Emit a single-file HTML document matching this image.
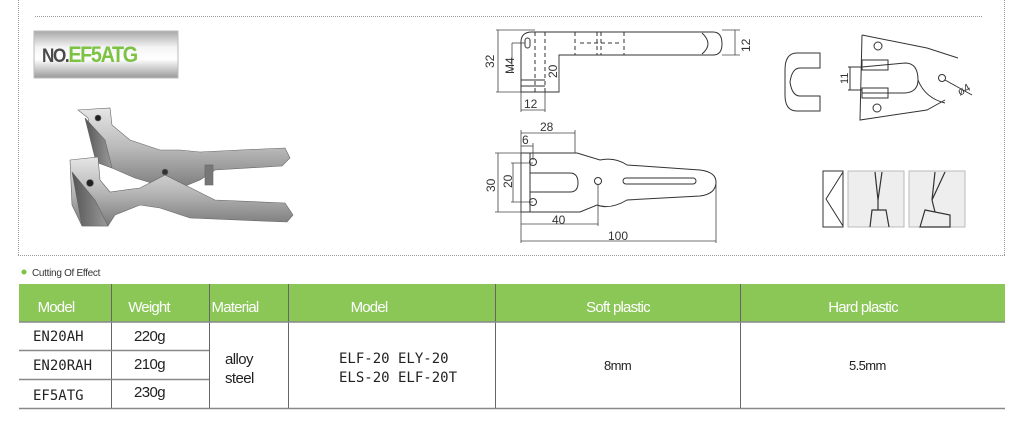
<!DOCTYPE html>
<html><head><meta charset="utf-8"><style>
body{margin:0;width:1022px;height:431px;background:#fff;overflow:hidden;font-family:"Liberation Sans",sans-serif;position:relative}
svg{position:absolute;left:0;top:0}
</style></head><body>
<svg width="1022" height="431" viewBox="0 0 1022 431" font-family="Liberation Sans, sans-serif">
<defs>
<linearGradient id="lab" x1="0" y1="0" x2="0" y2="1">
<stop offset="0" stop-color="#a8a8a8"/><stop offset="0.35" stop-color="#f4f4f4"/><stop offset="0.6" stop-color="#ffffff"/><stop offset="1" stop-color="#9a9a9a"/></linearGradient>
<linearGradient id="met" x1="0" y1="0" x2="0" y2="1">
<stop offset="0" stop-color="#e6e6e6"/><stop offset="0.5" stop-color="#b8b8b8"/><stop offset="1" stop-color="#7a7a7a"/></linearGradient>
<linearGradient id="dark" x1="0" y1="0" x2="1" y2="0">
<stop offset="0" stop-color="#555"/><stop offset="1" stop-color="#9a9a9a"/></linearGradient>
</defs>
<g stroke="#9a9a9a" stroke-width="1" stroke-dasharray="1,1" fill="none">
<line x1="18.5" y1="0" x2="18.5" y2="255"/>
<line x1="18" y1="255.5" x2="1005" y2="255.5"/>
<line x1="1004.5" y1="0" x2="1004.5" y2="255"/>
<line x1="35" y1="16.5" x2="982" y2="16.5"/>
</g>
<rect x="34" y="31" width="144" height="47" fill="url(#lab)" stroke="#bbb"/>
<text x="42" y="62" font-size="19" fill="#4a4a4a" letter-spacing="-1.5" font-weight="bold" transform="translate(42 0) scale(0.9 1) translate(-42 0)">NO.<tspan fill="#7cc243" font-size="22">EF5ATG</tspan></text>
<!-- pliers photo approx -->
<g stroke="#666" stroke-width="0.6">
<path d="M78 110 L110 108 L112 125 L130 140 L160 150 L180 150 L200 152 L240 150 L285 148 L290 158 L282 166 L215 170 L200 180 L175 190 L135 178 L112 168 L96 162 L88 118 Z" fill="url(#met)"/>
<path d="M85 118 L96 162 L112 168 L105 140 Z" fill="url(#dark)"/>
<path d="M70 160 L98 157 L100 180 L110 192 L140 188 L165 175 L185 185 L215 200 L285 203 L293 215 L287 222 L190 218 L160 208 L140 205 L115 215 L108 226 L82 226 L72 205 Z" fill="url(#met)"/>
<path d="M72 172 L82 226 L108 226 L95 200 Z" fill="url(#dark)"/>
<circle cx="98" cy="118" r="3" fill="#222"/><circle cx="90" cy="183" r="3.5" fill="#222"/><circle cx="165" cy="172" r="3" fill="#333"/>
<rect x="205" y="165" width="8" height="20" fill="#777"/>
</g>
<g stroke="#333" stroke-width="1" fill="none">
<path d="M532 32 Q521 32 521 42 L521 92 L559 92 L559 55 L713 55 Q722 55 722 44 Q722 32 713 32 Z"/>
<path d="M702 33 Q714 44 702 54"/>
<g stroke-dasharray="4,3"><line x1="535" y1="32" x2="535" y2="92"/><line x1="545" y1="32" x2="545" y2="92"/><line x1="575" y1="32" x2="575" y2="55"/><line x1="597" y1="32" x2="597" y2="55"/><line x1="601" y1="32" x2="601" y2="55"/><line x1="624" y1="32" x2="624" y2="55"/><line x1="580" y1="43" x2="620" y2="43"/></g>
<rect x="525" y="38" width="5" height="10" rx="2.5"/>
<line x1="521" y1="80" x2="545" y2="80"/><line x1="521" y1="86" x2="545" y2="86"/>
<g stroke="#444" stroke-width="0.8">
<line x1="496" y1="30" x2="535" y2="30"/><line x1="496" y1="92" x2="521" y2="92"/><line x1="498" y1="30" x2="498" y2="92"/>
<line x1="512" y1="43" x2="512" y2="72"/><line x1="512" y1="43" x2="525" y2="43"/>
<line x1="559" y1="55" x2="559" y2="92"/><line x1="521" y1="92" x2="521" y2="112"/><line x1="545" y1="92" x2="545" y2="112"/><line x1="521" y1="110" x2="545" y2="110"/>
<line x1="722" y1="30" x2="740" y2="30"/><line x1="722" y1="55" x2="740" y2="55"/><line x1="735" y1="30" x2="735" y2="55"/>
</g></g>
<g font-size="12" fill="#333">
<text transform="translate(494 68) rotate(-90)">32</text>
<text transform="translate(514 74) rotate(-90)">M4</text>
<text transform="translate(557 78) rotate(-90)">20</text>
<text transform="translate(750 52) rotate(-90)">12</text>
<text x="524" y="108">12</text>
<text x="540" y="131">28</text><text x="522" y="144">6</text>
<text transform="translate(495 192) rotate(-90)">30</text>
<text transform="translate(512 188) rotate(-90)">20</text>
<text x="552" y="224">40</text><text x="608" y="240">100</text>
</g>
<g stroke="#333" stroke-width="1" fill="none">
<path d="M521 153 L577 153 L600 160 Q615 157 627 165 L700 170 Q716 172 716 182 Q716 194 700 196 L627 200 Q610 210 597 205 L580 212 L521 212 Z"/>
<path d="M530 173 L570 173 Q578 173 578 183 Q578 192 570 192 L530 192"/>
<rect x="623" y="178" width="73" height="6" rx="3"/>
<line x1="530" y1="153" x2="530" y2="212"/>
<circle cx="533" cy="162" r="3.5"/><circle cx="533" cy="202" r="3.5"/><circle cx="598" cy="181" r="3.5"/>
<g stroke="#444" stroke-width="0.8">
<line x1="521" y1="130" x2="521" y2="243"/><line x1="575" y1="130" x2="575" y2="153"/><line x1="521" y1="133" x2="575" y2="133"/>
<line x1="533" y1="143" x2="533" y2="160"/><line x1="521" y1="146" x2="533" y2="146"/>
<line x1="495" y1="153" x2="521" y2="153"/><line x1="495" y1="212" x2="521" y2="212"/><line x1="498" y1="153" x2="498" y2="212"/>
<line x1="511" y1="163" x2="533" y2="163"/><line x1="511" y1="202" x2="533" y2="202"/><line x1="513" y1="163" x2="513" y2="202"/>
<line x1="598" y1="185" x2="598" y2="226"/><line x1="521" y1="224" x2="598" y2="224"/>
<line x1="716" y1="182" x2="716" y2="243"/><line x1="521" y1="241" x2="716" y2="241"/>
</g></g>
<g stroke="#333" stroke-width="1" fill="none">
<path d="M820 53 L797 53 Q785 53 785 70 L785 95 Q785 111 797 111 L820 111 L820 96 L800 96 Q792 96 790 82 Q792 68 800 68 L820 68 Z"/>
<path d="M862 35 L927 48 L958 58 M862 35 L860 120 L927 110 L945 100"/>
<rect x="862" y="60" width="26" height="10"/><rect x="862" y="88" width="26" height="10"/>
<path d="M862 67 L905 63 Q918 63 918 80 Q918 92 905 93 L862 93"/>
<path d="M918 80 Q925 98 945 103"/>
<circle cx="878" cy="46" r="4"/><circle cx="877" cy="108" r="4"/><circle cx="942" cy="78" r="3.5"/>
<line x1="945" y1="80" x2="972" y2="95"/>
<line x1="850" y1="67" x2="850" y2="90"/><line x1="848" y1="67" x2="862" y2="67"/><line x1="848" y1="90" x2="862" y2="90"/>
</g>
<text transform="translate(848 84) rotate(-90)" font-size="11" fill="#333">11</text>
<text transform="translate(960 96) rotate(-30)" font-size="11" fill="#333">ø4</text>
<rect x="823" y="171" width="20" height="56" fill="#fff" stroke="#333"/>
<path d="M843 172 L826 199 L843 226" fill="none" stroke="#333"/>
<rect x="848" y="171" width="56" height="56" fill="#eee" stroke="#bbb"/>
<rect x="909" y="171" width="56" height="56" fill="#eee" stroke="#bbb"/>
<g stroke="#333" fill="none" stroke-width="1.2">
<path d="M875 172 L878 200 L882 172 M870 227 L872 210 L886 210 L889 227 M878 195 L878 210"/>
<path d="M935 172 L932 200 L945 172 M920 227 L925 210 L950 215 L950 227 Z M932 200 L935 212"/>
</g>
<circle cx="24" cy="272" r="2.5" fill="#7cc243"/>
<text x="32" y="276" font-size="10" fill="#333" letter-spacing="-0.3">Cutting Of Effect</text>
<rect x="19" y="284" width="986" height="38" fill="#8bc757"/>
<g font-size="15" fill="#fff" text-anchor="middle" letter-spacing="-0.8">
<text x="56" y="312">Model</text><text x="149" y="312">Weight</text><text x="235" y="312">Material</text><text x="369" y="312">Model</text><text x="618" y="312">Soft plastic</text><text x="863" y="312">Hard plastic</text>
</g>
<g stroke="#666" stroke-width="1">
<line x1="111.5" y1="284" x2="111.5" y2="408"/><line x1="209.5" y1="284" x2="209.5" y2="408"/><line x1="288.5" y1="284" x2="288.5" y2="408"/><line x1="495.5" y1="284" x2="495.5" y2="408"/><line x1="740.5" y1="284" x2="740.5" y2="408"/>
</g>
<g stroke="#888" stroke-width="1.5">
<line x1="19" y1="322" x2="1005" y2="322"/><line x1="19" y1="350.5" x2="209" y2="350.5"/><line x1="19" y1="379.5" x2="209" y2="379.5"/><line x1="19" y1="408.5" x2="1005" y2="408.5"/>
</g>
<g font-size="14" fill="#222" font-family="DejaVu Sans Mono, Liberation Mono, monospace" font-weight="bold">
<text x="33" y="341" font-weight="normal">EN20AH</text><text x="33" y="370" font-weight="normal">EN20RAH</text><text x="33" y="400" font-weight="normal">EF5ATG</text>
</g>
<g font-size="14" fill="#222" font-family="DejaVu Sans Mono, Liberation Mono, monospace">
<text x="339" y="363">ELF-20 ELY-20</text><text x="339" y="382">ELS-20 ELF-20T</text>
</g>
<g font-size="15" fill="#222" letter-spacing="-0.6">
<text x="134" y="341">220g</text><text x="134" y="369">210g</text><text x="134" y="397">230g</text>
<text x="225" y="364">alloy</text><text x="225" y="383">steel</text>
<text x="604" y="370" font-size="13">8mm</text><text x="849" y="370" font-size="13">5.5mm</text>
</g>
</svg>
</body></html>
